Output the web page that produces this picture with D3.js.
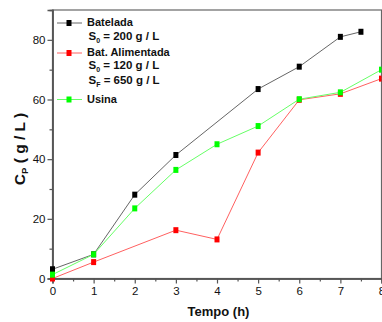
<!DOCTYPE html>
<html><head><meta charset="utf-8">
<script src="https://cdn.jsdelivr.net/npm/d3@7"></script>
<style>body{margin:0;background:#fff}svg{display:block}text{font-family:Arial,"Liberation Sans",sans-serif}</style>
</head><body><svg id="c" width="382" height="322"></svg>
<script>
const xTicks = [0,1,2,3,4,5,6,7,8];
const yTicks = [0,20,40,60,80];
const bateladaT = [0,1,2,3,5,6,7,7.5];
const bateladaC = [3.1,8.1,28.1,41.4,63.5,71,81,82.7];
const alimentadaT = [0,1,3,4,5,6,7,8];
const alimentadaC = [0,5.5,16.2,13.1,42.2,59.9,61.9,67];
const usinaT = [0,1,2,3,4,5,6,7,8];
const usinaC = [1.3,8.1,23.5,36.4,45.0,51.1,60.1,62.4,70];

const svg = d3.select("#c");
const L=52.5, R=381.5, T=10, B=278.5;
const x = d3.scaleLinear().domain([0,8]).range([L,R]);
const y = d3.scaleLinear().domain([0,90]).range([B,T]);

// frame
svg.append("rect").attr("x",L).attr("y",T).attr("width",R-L).attr("height",B-T)
  .attr("fill","none").attr("stroke","#666").attr("stroke-width",1.2);

// axes
const xa = svg.append("g").attr("transform",`translate(0,${B})`);
xa.call(d3.axisBottom(x).tickValues(xTicks).tickFormat(d3.format("d")).tickSize(5).tickPadding(3));
xa.append("g").call(d3.axisBottom(x).tickValues(d3.range(0.5,8,1)).tickFormat("").tickSize(3));
const ya = svg.append("g").attr("transform",`translate(${L},0)`);
ya.call(d3.axisLeft(y).tickValues(yTicks).tickFormat(d3.format("d")).tickSize(5).tickPadding(2));
ya.append("g").call(d3.axisLeft(y).tickValues([10,30,50,70]).tickFormat("").tickSize(3));
svg.selectAll(".domain").attr("stroke","#555").attr("stroke-width",1.5);
svg.selectAll(".tick line").attr("stroke","#555").attr("stroke-width",1.2);
svg.selectAll(".tick text").attr("font-size",11.5).attr("fill","#111").attr("font-family","Arial");

const series = [
  {t:bateladaT,c:bateladaC,line:"#666",mark:"#000"},
  {t:alimentadaT,c:alimentadaC,line:"#ff6060",mark:"#ff0000"},
  {t:usinaT,c:usinaC,line:"#66ff66",mark:"#00ff00"}
];
const ln = d3.line().x(d=>x(d[0])).y(d=>y(d[1]));
svg.append("clipPath").attr("id","cp").append("rect").attr("x",L-4).attr("y",T).attr("width",R-L+4).attr("height",B-T+4);
series.forEach(s=>{
  const pts = s.t.map((t,i)=>[t,s.c[i]]);
  const g = svg.append("g").attr("clip-path","url(#cp)");
  g.append("path").attr("d",ln(pts)).attr("fill","none").attr("stroke",s.line).attr("stroke-width",1);
  g.selectAll("rect").data(pts).join("rect")
    .attr("x",d=>x(d[0])-2.5).attr("y",d=>y(d[1])-3).attr("width",5).attr("height",6).attr("fill",s.mark);
});

// legend
const leg = [
  {y:26, name:"Batelada", line:"#666", mark:"#000"},
  {y:56, name:"Bat. Alimentada", line:"#ff6060", mark:"#ff0000"},
  {y:102.5, name:"Usina", line:"#66ff66", mark:"#00ff00"}
];
leg.forEach(d=>{
  svg.append("line").attr("x1",57).attr("x2",82).attr("y1",d.y-3).attr("y2",d.y-3).attr("stroke",d.line).attr("stroke-width",1);
  svg.append("rect").attr("x",66.5).attr("y",d.y-6).attr("width",5).attr("height",6).attr("fill",d.mark);
  svg.append("text").attr("x",87).attr("y",d.y).attr("font-size",11).attr("font-weight","bold").attr("fill","#111").text(d.name);
});
const subs = [{y:39.7,s:"0",v:" = 200 g / L"},{y:68.7,s:"0",v:" = 120 g / L"},{y:83.5,s:"F",v:" = 650 g / L"}];
subs.forEach(d=>{
  const t = svg.append("text").attr("x",88.5).attr("y",d.y).attr("font-size",11.5).attr("font-weight","bold").attr("fill","#111");
  t.append("tspan").text("S");
  t.append("tspan").attr("font-size",7).attr("dy",3.5).text(d.s);
  t.append("tspan").attr("dy",-3.5).text(d.v);
});

// axis titles
svg.append("text").attr("x",218.5).attr("y",315.5).attr("text-anchor","middle").attr("font-size",13).attr("font-weight","bold").attr("fill","#111").text("Tempo (h)");
const yt = svg.append("text").attr("transform","translate(25,149) rotate(-90)").attr("text-anchor","middle").attr("font-size",15.5).attr("font-weight","bold").attr("fill","#111");
yt.append("tspan").text("C");
yt.append("tspan").attr("font-size",9.5).attr("dy",3).text("P");
yt.append("tspan").attr("dy",-3).text(" ( g / L )");
</script></body></html>
